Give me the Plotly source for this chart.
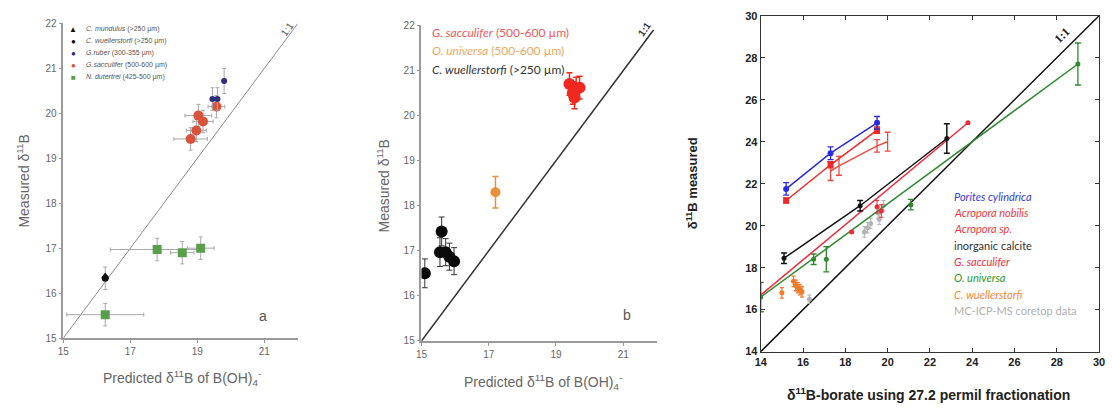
import plotly.graph_objects as go

# ---------------- Panel a data ----------------
a_mund_x = [16.25]; a_mund_y = [16.38]
a_wuel_x = [16.25]; a_wuel_y = [16.33]; a_wuel_err = [0.25]
a_rub_x = [19.45, 19.6, 19.8]; a_rub_y = [20.32, 20.32, 20.72]; a_rub_err = [0.25, 0.25, 0.28]
a_sac_x = [18.8, 18.97, 19.03, 19.17, 19.57]
a_sac_y = [19.43, 19.62, 19.95, 19.82, 20.15]
a_sac_xerr = [0.5, 0.3, 0.4, 0.3, 0.25]
a_sac_yerr = [0.25, 0.25, 0.25, 0.25, 0.25]
a_dut_x = [16.25, 17.8, 18.55, 19.1]
a_dut_y = [15.52, 16.97, 16.9, 17.0]
a_dut_xerr = [1.15, 1.4, 0.35, 0.4]
a_dut_yerr = [0.25, 0.25, 0.25, 0.25]
a_one = [15, 22]

# ---------------- Panel b data ----------------
b_sac_x = [19.4, 19.5, 19.6, 19.7, 19.55]
b_sac_y = [20.7, 20.5, 20.6, 20.62, 20.4]
b_sac_err = [0.25, 0.25, 0.25, 0.25, 0.25]
b_uni_x = [17.2]; b_uni_y = [18.3]; b_uni_err = [0.35]
b_wue_x = [15.1, 15.6, 15.55, 15.72, 15.83, 15.97]
b_wue_y = [16.5, 17.43, 16.97, 16.97, 16.87, 16.77]
b_wue_err = [0.32, 0.32, 0.32, 0.3, 0.3, 0.3]
b_one = [15, 21.9]

# ---------------- Panel c data ----------------
por_x = [15.2, 17.3, 19.5]; por_y = [21.75, 23.45, 24.9]; por_err = [0.3, 0.3, 0.3]
nob_x = [15.2, 17.3, 19.5]; nob_y = [21.2, 22.9, 24.55]; nob_err = [0.12, 0.15, 0.15]
asp_x = [17.3, 17.7, 19.5, 20.0]; asp_y = [22.6, 22.85, 23.8, 24.0]; asp_err = [0.45, 0.45, 0.3, 0.45]
calc_x = [15.1, 18.7, 22.8]; calc_y = [18.45, 20.95, 24.15]; calc_err = [0.25, 0.25, 0.7]
sacf_x = [14.0, 23.8]; sacf_y = [16.7, 24.9]
sac_x = [18.3, 19.5, 19.7, 23.8]; sac_y = [19.7, 20.9, 20.7, 24.9]; sac_err = [0.05, 0.3, 0.3, 0.05]
unif_x = [14.0, 29.0]; unif_y = [16.6, 27.7]
uni_x = [14.0, 16.5, 17.1, 21.1, 29.0]; uni_y = [16.6, 18.4, 18.4, 21.0, 27.7]; uni_err = [0.7, 0.25, 0.6, 0.25, 1.0]
wue_x = [15.0, 15.55, 15.65, 15.75, 15.85, 15.95]
wue_y = [16.8, 17.35, 17.15, 17.05, 16.95, 16.85]
wue_err = [0.25, 0.25, 0.25, 0.25, 0.25, 0.25]
core_x = [16.3, 18.9, 19.05, 19.2, 19.55, 19.6, 19.8]
core_y = [16.5, 19.7, 19.9, 20.1, 20.6, 20.3, 20.95]
core_err = [0.2, 0.25, 0.25, 0.25, 0.25, 0.25, 0.25]
c_one = [14, 30]

fig = go.Figure()

def sc(x, y, xa, ya, **kw):
    fig.add_trace(go.Scatter(x=x, y=y, xaxis=xa, yaxis=ya, showlegend=False, hoverinfo="skip", **kw))

GRAYERR = "#a8a8a8"
# ---- Panel a ----
sc(a_one, a_one, "x", "y", mode="lines", line=dict(color="#8a8a8a", width=1))
sc(a_dut_x, a_dut_y, "x", "y", mode="markers",
   marker=dict(symbol="square", size=9, color="#5a9e4b"),
   error_x=dict(type="data", array=a_dut_xerr, color=GRAYERR, thickness=1, width=2),
   error_y=dict(type="data", array=a_dut_yerr, color=GRAYERR, thickness=1, width=2))
sc(a_sac_x, a_sac_y, "x", "y", mode="markers",
   marker=dict(symbol="circle", size=10, color="#d9533c"),
   error_x=dict(type="data", array=a_sac_xerr, color=GRAYERR, thickness=1, width=2),
   error_y=dict(type="data", array=a_sac_yerr, color=GRAYERR, thickness=1, width=2))
sc(a_rub_x, a_rub_y, "x", "y", mode="markers",
   marker=dict(symbol="circle", size=6, color="#2e2e7a"),
   error_y=dict(type="data", array=a_rub_err, color=GRAYERR, thickness=1, width=2))
sc(a_wuel_x, a_wuel_y, "x", "y", mode="markers",
   marker=dict(symbol="circle", size=7, color="#111"),
   error_y=dict(type="data", array=a_wuel_err, color=GRAYERR, thickness=1, width=2))
sc(a_mund_x, a_mund_y, "x", "y", mode="markers",
   marker=dict(symbol="triangle-up", size=7, color="#111"))

# ---- Panel b ----
sc(b_one, b_one, "x2", "y2", mode="lines", line=dict(color="#333", width=1.5))
sc(b_wue_x, b_wue_y, "x2", "y2", mode="markers",
   marker=dict(symbol="circle", size=12, color="#0a0a0a"),
   error_y=dict(type="data", array=b_wue_err, color="#333", thickness=1, width=3))
sc(b_uni_x, b_uni_y, "x2", "y2", mode="markers",
   marker=dict(symbol="circle", size=10, color="#e8903a"),
   error_y=dict(type="data", array=b_uni_err, color="#e8903a", thickness=1.5, width=3))
sc(b_sac_x, b_sac_y, "x2", "y2", mode="markers",
   marker=dict(symbol="circle", size=12, color="#f0281e"),
   error_y=dict(type="data", array=b_sac_err, color="#f0281e", thickness=1.5, width=3))

# ---- Panel c ----
sc(c_one, c_one, "x3", "y3", mode="lines", line=dict(color="#111", width=1.5))
sc(core_x, core_y, "x3", "y3", mode="markers",
   marker=dict(size=5, color="#b4b4b4"),
   error_y=dict(type="data", array=core_err, color="#b4b4b4", thickness=1, width=2))
sc(unif_x, unif_y, "x3", "y3", mode="lines", line=dict(color="#2f8a2f", width=1.5))
sc(uni_x, uni_y, "x3", "y3", mode="markers",
   marker=dict(size=5, color="#2f8a2f"),
   error_y=dict(type="data", array=uni_err, color="#2f8a2f", thickness=1.3, width=3))
sc(sacf_x, sacf_y, "x3", "y3", mode="lines", line=dict(color="#ee2a3a", width=1.5))
sc(sac_x, sac_y, "x3", "y3", mode="markers",
   marker=dict(size=5, color="#ee2a3a"),
   error_y=dict(type="data", array=sac_err, color="#ee2a3a", thickness=1, width=2))
sc(wue_x, wue_y, "x3", "y3", mode="markers",
   marker=dict(size=5, color="#f07a28"),
   error_y=dict(type="data", array=wue_err, color="#f07a28", thickness=1.3, width=2))
sc(calc_x, calc_y, "x3", "y3", mode="lines+markers",
   line=dict(color="#111", width=1.5), marker=dict(size=5, color="#111"),
   error_y=dict(type="data", array=calc_err, color="#111", thickness=1.5, width=3))
sc(asp_x, asp_y, "x3", "y3", mode="lines",
   line=dict(color="#ec4a40", width=1.5),
   error_y=dict(type="data", array=asp_err, color="#ec4a40", thickness=1.3, width=3))
sc(nob_x, nob_y, "x3", "y3", mode="lines+markers",
   line=dict(color="#f0282a", width=1.5), marker=dict(size=6, symbol="square", color="#f0282a"),
   error_y=dict(type="data", array=nob_err, color="#f0282a", thickness=1.3, width=3))
sc(por_x, por_y, "x3", "y3", mode="lines+markers",
   line=dict(color="#2a2ae0", width=1.5), marker=dict(size=6, color="#2a2ae0"),
   error_y=dict(type="data", array=por_err, color="#2a2ae0", thickness=1.3, width=3))

W, H = 1112, 412
def px(x): return x / W
def py(y): return 1 - y / H

ab_axis = dict(showline=True, linecolor="#9a9a9a", linewidth=1.5, ticks="outside", ticklen=3,
               tickcolor="#9a9a9a", tickfont=dict(family="Liberation Sans, Arial", size=10, color="#666"),
               showgrid=False, zeroline=False, fixedrange=True)
c_axis = dict(showline=True, linecolor="#333", linewidth=1.2, mirror="ticks", ticks="inside", ticklen=4,
              tickcolor="#333", tickfont=dict(family="Liberation Sans, Arial", size=11, color="#222", weight="bold"),
              showgrid=False, zeroline=False, fixedrange=True)

fig.update_layout(
    width=W, height=H, margin=dict(l=0, r=0, t=0, b=0),
    paper_bgcolor="white", plot_bgcolor="white",
    xaxis=dict(domain=[px(58), px(295)], range=[15, 22], tickvals=[15, 17, 19, 21], anchor="y", **ab_axis),
    yaxis=dict(domain=[py(342), py(18)], range=[15, 22], dtick=1, anchor="x", **ab_axis),
    xaxis2=dict(domain=[px(420), px(658)], range=[15, 22], tickvals=[15, 17, 19, 21], anchor="y2", **ab_axis),
    yaxis2=dict(domain=[py(345), py(20)], range=[15, 22], dtick=1, anchor="x2", **ab_axis),
    xaxis3=dict(domain=[px(763), px(1105)], range=[14, 30], dtick=2, anchor="y3", **c_axis),
    yaxis3=dict(domain=[py(356), py(10)], range=[14, 30], dtick=2, anchor="x3", **c_axis),
)

ann = []
def A(text, x, y, size, color, family="Liberation Sans, Arial", xanchor="center", yanchor="middle", angle=0, **kw):
    ann.append(dict(text=text, x=x, y=y, xref="paper", yref="paper", showarrow=False,
                    font=dict(family=family, size=size, color=color), xanchor=xanchor,
                    yanchor=yanchor, textangle=angle, **kw))

# axis titles
A("Predicted δ<sup>11</sup>B of B(OH)<sub>4</sub><sup>-</sup>", px(178), py(383), 14, "#666")
A("Measured δ<sup>11</sup>B", px(17), py(180), 14, "#666", angle=-90)
A("Predicted δ<sup>11</sup>B of B(OH)<sub>4</sub><sup>-</sup>", px(543), py(387), 14, "#666")
A("Measured δ<sup>11</sup>B", px(381), py(185), 14, "#666", angle=-90)
A("<b>δ<sup>11</sup>B-borate using 27.2 permil fractionation</b>", px(933), py(400), 14, "#222")
A("<b>δ<sup>11</sup>B measured</b>", px(693), py(183), 13, "#222", angle=-90)

# panel letters
A("a", px(260), py(319), 14, "#555")
A("b", px(628), py(318), 14, "#555")

# 1:1 labels
A("1:1", px(284), py(24), 10, "#555", angle=-54)
A("<b>1:1</b>", px(645), py(24), 10, "#333", angle=-54)
A("<b>1:1</b>", px(1068), py(30), 12, "#222", family="Liberation Serif, Times New Roman", angle=-45)

# panel a legend
leg_a = [
    ("▲", "#111", "<i>C. mundulus</i> (>250 µm)"),
    ("●", "#111", "<i>C. wuellerstorfi</i> (>250 µm)"),
    ("●", "#2e2e7a", "<i>G.ruber</i> (300-355 µm)"),
    ("●", "#d9533c", "<i>G.sacculifer</i> (500-600 µm)"),
    ("■", "#5a9e4b", "<i>N. dutertrei</i> (425-500 µm)"),
]
for i, (sym, col, txt) in enumerate(leg_a):
    y = 24 + i * 12.4
    A(sym, px(68), py(y), 8, col, xanchor="center")
    A(txt, px(79), py(y), 7, "#555", xanchor="left")

# panel b legend
A("<i>G. sacculifer</i> (500-600 µm)", px(429), py(27), 12, "#ef5a5a", family="Lato, Open Sans", xanchor="left")
A("<i>O. universa</i> (500-600 µm)", px(429), py(46), 12, "#f0a860", family="Lato, Open Sans", xanchor="left")
A("<i>C. wuellerstorfi</i> (>250 µm)", px(429), py(65), 12, "#333", family="Lato, Open Sans", xanchor="left")

# panel c legend
leg_c = [
    ("<i>Porites cylindrica</i>", "#3a3ad8"),
    ("<i>Acropora nobilis</i>", "#f03a3a"),
    ("<i>Acropora sp.</i>", "#f03a3a"),
    ("inorganic calcite", "#333"),
    ("<i>G. sacculifer</i>", "#f0303a"),
    ("<i>O. universa</i>", "#2a9a2a"),
    ("<i>C. wuellerstorfi</i>", "#f08a3a"),
    ("MC-ICP-MS coretop data", "#b0b0b0"),
]
for i, (txt, col) in enumerate(leg_c):
    A(txt, px(956), py(196 + i * 16.8), 11, col, family="Lato, Open Sans", xanchor="left")

fig.update_layout(annotations=ann)
fig.write_html("out.html")
